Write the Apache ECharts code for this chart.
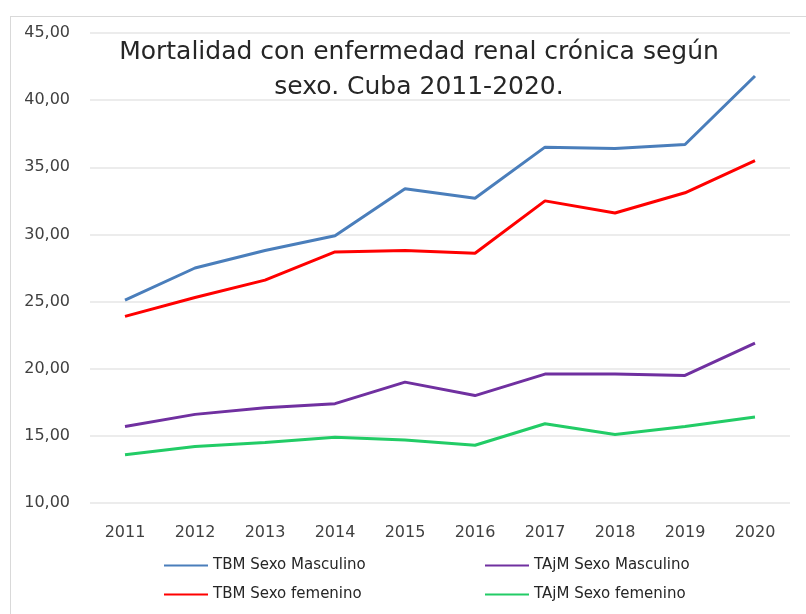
<!doctype html>
<html>
<head>
<meta charset="utf-8">
<style>
  html, body { margin:0; padding:0; background:#fff; }
  .frame { position:absolute; left:10px; top:16px; width:900px; height:700px; border:1px solid #d9d9d9; }
  #main { position:absolute; left:0; top:0; width:806px; height:614px; }
</style>
</head>
<body>
<div class="frame"></div>
<div id="main"></div>
<script src="https://cdn.jsdelivr.net/npm/echarts@6/dist/echarts.min.js"></script>
<script>
// años
var years = ['2011','2012','2013','2014','2015','2016','2017','2018','2019','2020'];
// tasas
var tbmMasc  = [25.1, 27.5, 28.8, 29.9, 33.4, 32.7, 36.5, 36.4, 36.7, 41.8];
var tbmFem   = [23.9, 25.3, 26.6, 28.7, 28.8, 28.6, 32.5, 31.6, 33.1, 35.5];
var tajmMasc = [15.7, 16.6, 17.1, 17.4, 19.0, 18.0, 19.6, 19.6, 19.5, 21.9];
var tajmFem  = [13.6, 14.2, 14.5, 14.9, 14.7, 14.3, 15.9, 15.1, 15.7, 16.4];
var yTicks = { min:10, max:45, interval:5 };

var font = 'DejaVu Sans';

function serie(name, data, color){
  return {
    name:name, type:'line', data:data,
    symbol:'none', smooth:false,
    lineStyle:{ color:color, width:3 },
    itemStyle:{ color:color }
  };
}

var myChart = echarts.init(document.getElementById('main'));
var option = {
  animation:false,
  title:{
    text:'Mortalidad con enfermedad renal crónica según\nsexo. Cuba 2011-2020.',
    left:414, top:30, textAlign:'center',
    textStyle:{ fontFamily:font, fontSize:25, fontWeight:'normal', color:'#262626', lineHeight:35 }
  },
  grid:{ left:90, top:33, width:700, height:470 },
  xAxis:{
    type:'category', data:years, boundaryGap:true,
    axisLine:{ show:false }, axisTick:{ show:false },
    axisLabel:{ color:'#404040', fontFamily:font, fontSize:16, margin:22 }
  },
  yAxis:{
    type:'value', min:yTicks.min, max:yTicks.max, interval:yTicks.interval,
    axisLine:{ show:false }, axisTick:{ show:false },
    axisLabel:{ color:'#404040', fontFamily:font, fontSize:16, margin:20,
      formatter:function(v){ return v.toFixed(2).replace('.', ','); } },
    splitLine:{ lineStyle:{ color:'#e6e6e6', width:1.5 } }
  },
  legend:[
    { orient:'vertical', left:159, top:553, itemGap:14, itemWidth:44, itemHeight:2, icon:'rect',
      data:['TBM Sexo Masculino','TBM Sexo femenino'],
      textStyle:{ fontFamily:font, fontSize:15, color:'#262626' } },
    { orient:'vertical', left:480, top:553, itemGap:14, itemWidth:44, itemHeight:2, icon:'rect',
      data:['TAjM Sexo Masculino','TAjM Sexo femenino'],
      textStyle:{ fontFamily:font, fontSize:15, color:'#262626' } }
  ],
  series:[
    serie('TBM Sexo Masculino', tbmMasc, '#4a7ebb'),
    serie('TBM Sexo femenino', tbmFem, '#ff0000'),
    serie('TAjM Sexo Masculino', tajmMasc, '#7030a0'),
    serie('TAjM Sexo femenino', tajmFem, '#22cc66')
  ]
};
myChart.setOption(option);
</script>
</body>
</html>
